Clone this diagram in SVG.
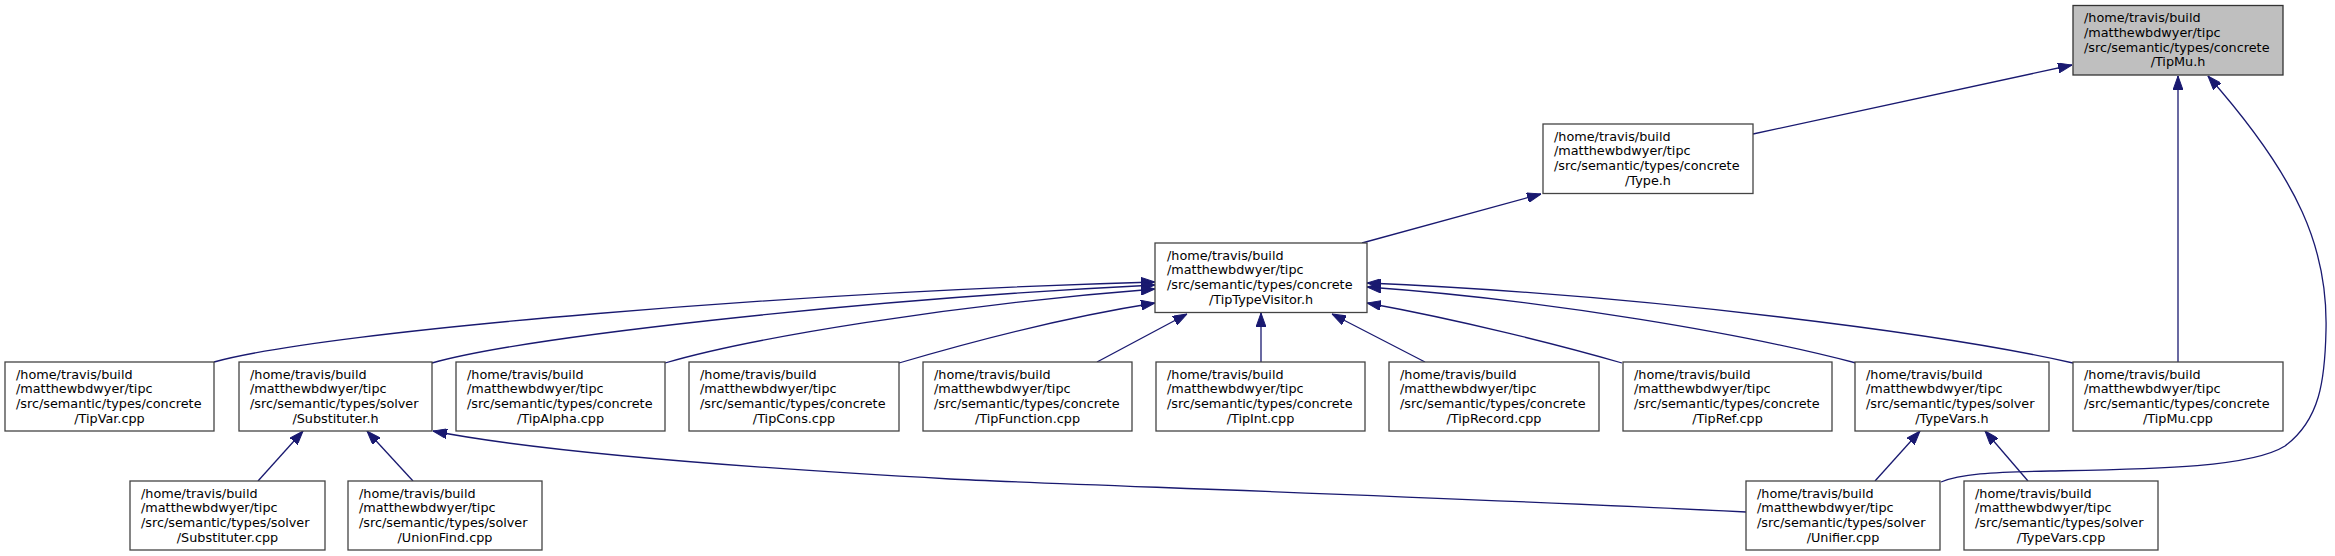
<svg xmlns="http://www.w3.org/2000/svg" width="2335" height="556" viewBox="0 0 2335 556">
<defs>
<style>
.n rect{fill:#ffffff;stroke:#444444;stroke-width:1.3}
.root rect{fill:#bfbfbf;stroke:#333333}
text{font-family:"DejaVu Sans","Liberation Sans",sans-serif;font-size:12.8px;fill:#000}
.c{text-anchor:middle}
.e path{fill:none;stroke:#191970;stroke-width:1.3;marker-end:url(#ah)}
</style>
<marker id="ah" markerUnits="userSpaceOnUse" viewBox="0 0 14 10" refX="14" refY="5" markerWidth="14" markerHeight="10" orient="auto">
<path d="M0,0 L14,5 L0,10 z" fill="#191970" stroke="#191970" stroke-width="1"/>
</marker>
</defs>
<rect width="2335" height="556" fill="#ffffff"/>
<g class="e" id="edges">
<path d="M1753,134 L2072,65"/>
<path d="M2178,362 L2178,76"/>
<path d="M1941,482 C1960,474 1990,472 2050,471 C2150,469 2250,468 2285,446 C2320,420 2325,380 2326,330 C2328,250 2300,180 2208,76"/>
<path d="M1362,243 L1541,194"/>
<path d="M214,362 C330,330 800,292 1155,282"/>
<path d="M432,363 C520,338 850,300 1155,285"/>
<path d="M665,363 C750,338 950,305 1155,289"/>
<path d="M899,363 C960,345 1060,318 1155,303"/>
<path d="M1097,362 L1187,314"/>
<path d="M1261,362 L1261,313"/>
<path d="M1425,362 L1332,314"/>
<path d="M1622,363 C1560,345 1460,320 1367,303"/>
<path d="M1856,363 C1750,335 1550,300 1367,287"/>
<path d="M2073,363 C1950,335 1650,295 1367,283"/>
<path d="M258,481 L303,431"/>
<path d="M413,481 L367,431"/>
<path d="M1746,512 C1450,497 1050,484 950,479 C750,468 540,452 433,431"/>
<path d="M1875,481 L1920,431"/>
<path d="M2028,481 L1985,431"/>
</g>
<g id="TipMu_h" class="n root"><rect x="2073" y="5.5" width="210" height="69.5"/>
<text x="2084" y="22.2">/home/travis/build</text><text x="2084" y="36.8">/matthewbdwyer/tipc</text><text x="2084" y="51.5">/src/semantic/types/concrete</text><text class="c" x="2178" y="66.2">/TipMu.h</text></g>
<g id="Type_h" class="n"><rect x="1543" y="124" width="210" height="69.5"/>
<text x="1554" y="140.7">/home/travis/build</text><text x="1554" y="155.3">/matthewbdwyer/tipc</text><text x="1554" y="170">/src/semantic/types/concrete</text><text class="c" x="1648" y="184.7">/Type.h</text></g>
<g id="TipTypeVisitor_h" class="n"><rect x="1155" y="243" width="212" height="69.5"/>
<text x="1167" y="259.7">/home/travis/build</text><text x="1167" y="274.3">/matthewbdwyer/tipc</text><text x="1167" y="289">/src/semantic/types/concrete</text><text class="c" x="1261" y="303.7">/TipTypeVisitor.h</text></g>
<g id="TipVar_cpp" class="n"><rect x="5" y="362" width="209" height="69"/>
<text x="16" y="378.7">/home/travis/build</text><text x="16" y="393.3">/matthewbdwyer/tipc</text><text x="16" y="408">/src/semantic/types/concrete</text><text class="c" x="109.5" y="422.7">/TipVar.cpp</text></g>
<g id="Substituter_h" class="n"><rect x="239" y="362" width="193" height="69"/>
<text x="250" y="378.7">/home/travis/build</text><text x="250" y="393.3">/matthewbdwyer/tipc</text><text x="250" y="408">/src/semantic/types/solver</text><text class="c" x="335.5" y="422.7">/Substituter.h</text></g>
<g id="TipAlpha_cpp" class="n"><rect x="456" y="362" width="209" height="69"/>
<text x="467" y="378.7">/home/travis/build</text><text x="467" y="393.3">/matthewbdwyer/tipc</text><text x="467" y="408">/src/semantic/types/concrete</text><text class="c" x="560.5" y="422.7">/TipAlpha.cpp</text></g>
<g id="TipCons_cpp" class="n"><rect x="689" y="362" width="210" height="69"/>
<text x="700" y="378.7">/home/travis/build</text><text x="700" y="393.3">/matthewbdwyer/tipc</text><text x="700" y="408">/src/semantic/types/concrete</text><text class="c" x="794" y="422.7">/TipCons.cpp</text></g>
<g id="TipFunction_cpp" class="n"><rect x="923" y="362" width="209" height="69"/>
<text x="934" y="378.7">/home/travis/build</text><text x="934" y="393.3">/matthewbdwyer/tipc</text><text x="934" y="408">/src/semantic/types/concrete</text><text class="c" x="1027.5" y="422.7">/TipFunction.cpp</text></g>
<g id="TipInt_cpp" class="n"><rect x="1156" y="362" width="209" height="69"/>
<text x="1167" y="378.7">/home/travis/build</text><text x="1167" y="393.3">/matthewbdwyer/tipc</text><text x="1167" y="408">/src/semantic/types/concrete</text><text class="c" x="1260.5" y="422.7">/TipInt.cpp</text></g>
<g id="TipRecord_cpp" class="n"><rect x="1389" y="362" width="210" height="69"/>
<text x="1400" y="378.7">/home/travis/build</text><text x="1400" y="393.3">/matthewbdwyer/tipc</text><text x="1400" y="408">/src/semantic/types/concrete</text><text class="c" x="1494" y="422.7">/TipRecord.cpp</text></g>
<g id="TipRef_cpp" class="n"><rect x="1623" y="362" width="209" height="69"/>
<text x="1634" y="378.7">/home/travis/build</text><text x="1634" y="393.3">/matthewbdwyer/tipc</text><text x="1634" y="408">/src/semantic/types/concrete</text><text class="c" x="1727.5" y="422.7">/TipRef.cpp</text></g>
<g id="TypeVars_h" class="n"><rect x="1855" y="362" width="194" height="69"/>
<text x="1866" y="378.7">/home/travis/build</text><text x="1866" y="393.3">/matthewbdwyer/tipc</text><text x="1866" y="408">/src/semantic/types/solver</text><text class="c" x="1952" y="422.7">/TypeVars.h</text></g>
<g id="TipMu_cpp" class="n"><rect x="2073" y="362" width="210" height="69"/>
<text x="2084" y="378.7">/home/travis/build</text><text x="2084" y="393.3">/matthewbdwyer/tipc</text><text x="2084" y="408">/src/semantic/types/concrete</text><text class="c" x="2178" y="422.7">/TipMu.cpp</text></g>
<g id="Substituter_cpp" class="n"><rect x="130" y="481" width="195" height="69"/>
<text x="141" y="497.7">/home/travis/build</text><text x="141" y="512.3">/matthewbdwyer/tipc</text><text x="141" y="527">/src/semantic/types/solver</text><text class="c" x="227.5" y="541.7">/Substituter.cpp</text></g>
<g id="UnionFind_cpp" class="n"><rect x="348" y="481" width="194" height="69"/>
<text x="359" y="497.7">/home/travis/build</text><text x="359" y="512.3">/matthewbdwyer/tipc</text><text x="359" y="527">/src/semantic/types/solver</text><text class="c" x="445" y="541.7">/UnionFind.cpp</text></g>
<g id="Unifier_cpp" class="n"><rect x="1746" y="481" width="194" height="69"/>
<text x="1757" y="497.7">/home/travis/build</text><text x="1757" y="512.3">/matthewbdwyer/tipc</text><text x="1757" y="527">/src/semantic/types/solver</text><text class="c" x="1843" y="541.7">/Unifier.cpp</text></g>
<g id="TypeVars_cpp" class="n"><rect x="1964" y="481" width="194" height="69"/>
<text x="1975" y="497.7">/home/travis/build</text><text x="1975" y="512.3">/matthewbdwyer/tipc</text><text x="1975" y="527">/src/semantic/types/solver</text><text class="c" x="2061" y="541.7">/TypeVars.cpp</text></g>
</svg>
